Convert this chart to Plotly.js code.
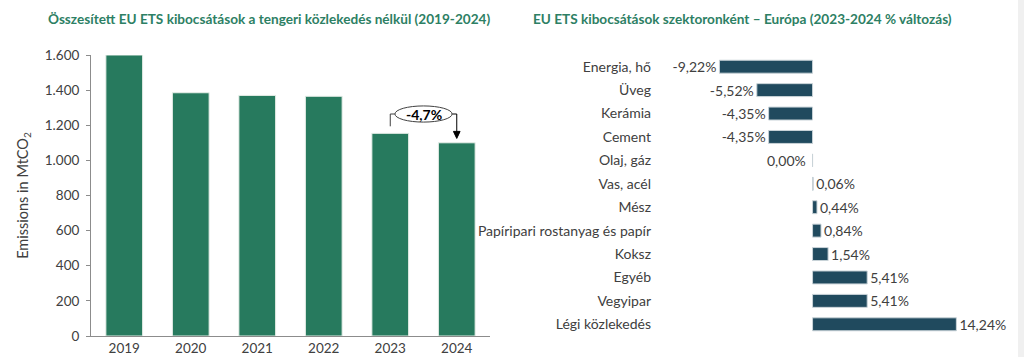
<!DOCTYPE html>
<html><head><meta charset="utf-8">
<script src="https://cdn.plot.ly/plotly-3.0.1.min.js"></script>
<style>html,body{margin:0;padding:0;background:#fff}#chart{width:1024px;height:357px}</style>
</head><body><div id="chart"></div>
<script>
const years = ['2019','2020','2021','2022','2023','2024'];
const emissions = [1600, 1385, 1370, 1365, 1154, 1100];
const changeLabel = '-4,7%';

const sectors = ['Energia, hő','Üveg','Kerámia','Cement','Olaj, gáz','Vas, acél','Mész','Papíripari rostanyag és papír','Koksz','Egyéb','Vegyipar','Légi közlekedés'];
const sectorChange = [-9.22, -5.52, -4.35, -4.35, 0.00, 0.06, 0.44, 0.84, 1.54, 5.41, 5.41, 14.24];

const FONT = 'Lato, "Open Sans", sans-serif';
const TXT = '#404040';
const TITLE = '#2d8064';

const fmtPct = v => v.toFixed(2).replace('.', ',') + '%';

const traces = [
  {type:'bar', x: years, y: emissions, xaxis:'x', yaxis:'y',
   marker:{color:'#277a5e', line:{color:'#e8efe9', width:1}}, hoverinfo:'none'},
  {type:'bar', orientation:'h', x: sectorChange, y: sectors, xaxis:'x2', yaxis:'y2',
   marker:{color:'#204a5e', line:{color:'#c9d3d8', width:1}},
   texttemplate:'%{x:.2f}%',
   textposition: sectorChange.map(v => v === 0 ? 'none' : 'outside'),
   cliponaxis:false, constraintext:'none',
   textfont:{family:FONT, size:14, color:TXT}, hoverinfo:'none'}
];

const i23 = 4, i24 = 5;
const bracketY = Math.max(emissions[i23], emissions[i24]) + 110;
const bx = (i23 + i24) / 2;
const tipY = emissions[i24] + 25;

const zeroNotes = sectors.map((s, i) => sectorChange[i] === 0 ? {
  xref:'x2', yref:'y2', x:0, y:s, xanchor:'right', xshift:-5, showarrow:false,
  text: fmtPct(sectorChange[i]), font:{family:FONT, size:14, color:TXT}} : null).filter(Boolean);

const layout = {
  width:1024, height:357, showlegend:false,
  paper_bgcolor:'#fff', plot_bgcolor:'#fff',
  separators:',.',
  font:{family:FONT, size:13, color:TXT},
  margin:{l:0, r:0, t:55, b:21},
  bargap:0.447,
  xaxis:{domain:[91/1024, 490/1024], type:'category', showline:true, linecolor:'#8c8c8c', linewidth:1,
    ticks:'', tickfont:{size:13.5, color:TXT}, fixedrange:true},
  yaxis:{domain:[0,1], range:[0,1600], dtick:200, tickformat:',d', showgrid:false, zeroline:false,
    showline:true, linecolor:'#8c8c8c', linewidth:1, ticks:'outside', ticklen:4, tickcolor:'#8c8c8c',
    ticklabelstandoff:4, tickfont:{size:13.5, color:TXT},
    title:{text:'Emissions in MtCO<sub>2</sub>', font:{size:14.5, color:TXT}, standoff:12}},
  xaxis2:{domain:[656/1024, 1000/1024], anchor:'y2', range:[-15.5, 18.56], visible:false, fixedrange:true},
  yaxis2:{domain:[0,1], anchor:'x2', type:'category', autorange:'reversed', showline:false, showgrid:false,
    zeroline:false, ticks:'', ticklabelstandoff:4, tickfont:{size:14, color:TXT}},
  annotations:[
    {xref:'paper', yref:'paper', x:269/1024, y:1+36/281, xanchor:'center', yanchor:'middle', showarrow:false,
     text:'<b>Összesített EU ETS kibocsátások a tengeri közlekedés nélkül (2019-2024)</b>',
     font:{family:FONT, size:13.6, color:TITLE}},
    {xref:'paper', yref:'paper', x:531/1024, y:1+36/281, xanchor:'left', yanchor:'middle', showarrow:false,
     text:'<b>EU ETS kibocsátások szektoronként – Európa (2023-2024 % változás)</b>',
     font:{family:FONT, size:13.6, color:TITLE}},
    {xref:'x', yref:'y', x:bx, y:bracketY, showarrow:false, text:'<b>'+changeLabel+'</b>',
     font:{family:FONT, size:14, color:'#000'}}
  ].concat(zeroNotes),
  shapes:[
    {type:'path', xref:'x', yref:'y', path:`M ${i23} ${emissions[i23]+40} L ${i23} ${bracketY} L ${bx-0.43} ${bracketY}`,
     line:{color:'#404040', width:1}},
    {type:'path', xref:'x', yref:'y', path:`M ${bx+0.43} ${bracketY} L ${i24} ${bracketY} L ${i24} ${tipY+30}`,
     line:{color:'#000', width:1}},
    {type:'path', xref:'x', yref:'y', path:`M ${i24-0.05} ${tipY+40} L ${i24+0.05} ${tipY+40} L ${i24} ${tipY} Z`,
     line:{color:'#000', width:1}, fillcolor:'#000'},
    {type:'circle', xref:'x', yref:'y', x0:bx-0.43, x1:bx+0.43, y0:bracketY-46, y1:bracketY+46,
     line:{color:'#404040', width:1}, fillcolor:'rgba(255,255,255,0)'},
    {type:'rect', xref:'paper', yref:'paper', x0:1018/1024, x1:1, y0:-21/281, y1:1+55/281,
     line:{width:0}, fillcolor:'#f0f0f0'}
  ]
};

Plotly.newPlot('chart', traces, layout, {staticPlot:true, displayModeBar:false});
</script></body></html>
